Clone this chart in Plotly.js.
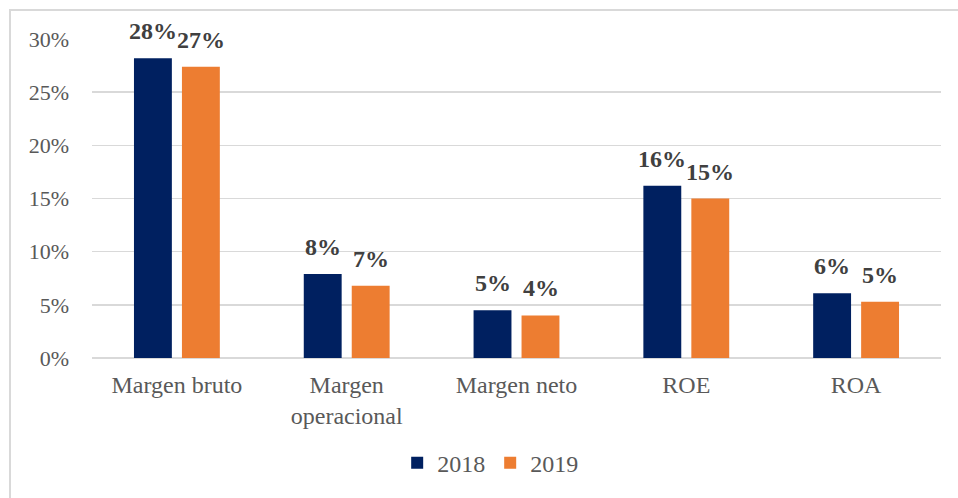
<!DOCTYPE html>
<html>
<head>
<meta charset="utf-8">
<script src="https://cdn.plot.ly/plotly-3.0.1.min.js"></script>
<style>
html,body{margin:0;padding:0;background:#fff;}
#wrap{position:relative;width:958px;height:498px;overflow:hidden;}
#chart{width:958px;height:498px;}
#frame{position:absolute;left:9px;top:9px;right:-5px;bottom:-5px;border-left:2px solid #d9d9d9;border-top:2px solid #d9d9d9;pointer-events:none;}
</style>
</head>
<body>
<div id="wrap"><div id="chart"></div><div id="frame"></div></div>
<script>
const categories = ["Margen bruto", "Margen<br>operacional", "Margen neto", "ROE", "ROA"];
const values2018 = [0.282, 0.079, 0.045, 0.162, 0.061];
const values2019 = [0.274, 0.068, 0.040, 0.150, 0.053];
const labels2018 = ["28%", "8%", "5%", "16%", "6%"];
const labels2019 = ["27%", "7%", "4%", "15%", "5%"];
const yTicks = [0, 0.05, 0.10, 0.15, 0.20, 0.25, 0.30];
const yTickLabels = ["0%", "5%", "10%", "15%", "20%", "25%", "30%"];

const serif = "Liberation Serif, Times New Roman, serif";
const labelFont = {family: serif, size: 24, color: "#404040", weight: "bold"};

const traces = [
  {type: "bar", name: "2018", x: categories, y: values2018, marker: {color: "#002060"}, hoverinfo: "none"},
  {type: "bar", name: "2019", x: categories, y: values2019, marker: {color: "#ED7D31"}, hoverinfo: "none"}
];

const annotations = [];
categories.forEach((c, i) => {
  annotations.push({x: c, y: values2018[i], xref: "x", yref: "y", text: "<b>" + labels2018[i] + "</b>",
    showarrow: false, xanchor: "center", yanchor: "bottom", xshift: -24, yshift: 12, font: labelFont});
  annotations.push({x: c, y: values2019[i], xref: "x", yref: "y", text: "<b>" + labels2019[i] + "</b>",
    showarrow: false, xanchor: "center", yanchor: "bottom", xshift: 24, yshift: 12, font: labelFont});
});

const layout = {
  width: 958, height: 498,
  margin: {l: 92, r: 17, t: 39, b: 140},
  paper_bgcolor: "#fff", plot_bgcolor: "#fff",
  barmode: "group", bargap: 0.435, bargroupgap: 0.21,
  font: {family: serif, size: 22, color: "#595959"},
  annotations: annotations,
  xaxis: {tickfont: {family: serif, size: 24, color: "#595959"}, showline: false, ticks: "", showgrid: false, zeroline: false,
          automargin: false, ticklabelstandoff: 10},
  yaxis: {range: [0, 0.30], tickvals: yTicks, ticktext: yTickLabels, showgrid: true, gridcolor: "#d9d9d9", gridwidth: 1.5,
          zeroline: true, zerolinecolor: "#d9d9d9", zerolinewidth: 1.5, showline: false, ticks: "", ticklen: 0,
          tickfont: {family: serif, size: 22, color: "#595959"}, automargin: false, ticklabelstandoff: 22},
  showlegend: true,
  legend: {orientation: "h", x: 0.469, xanchor: "center", y: -0.33, yanchor: "middle", font: {family: serif, size: 24, color: "#595959"},
           traceorder: "normal", itemwidth: 30}
};

Plotly.newPlot("chart", traces, layout, {displayModeBar: false, staticPlot: true});
</script>
</body>
</html>
